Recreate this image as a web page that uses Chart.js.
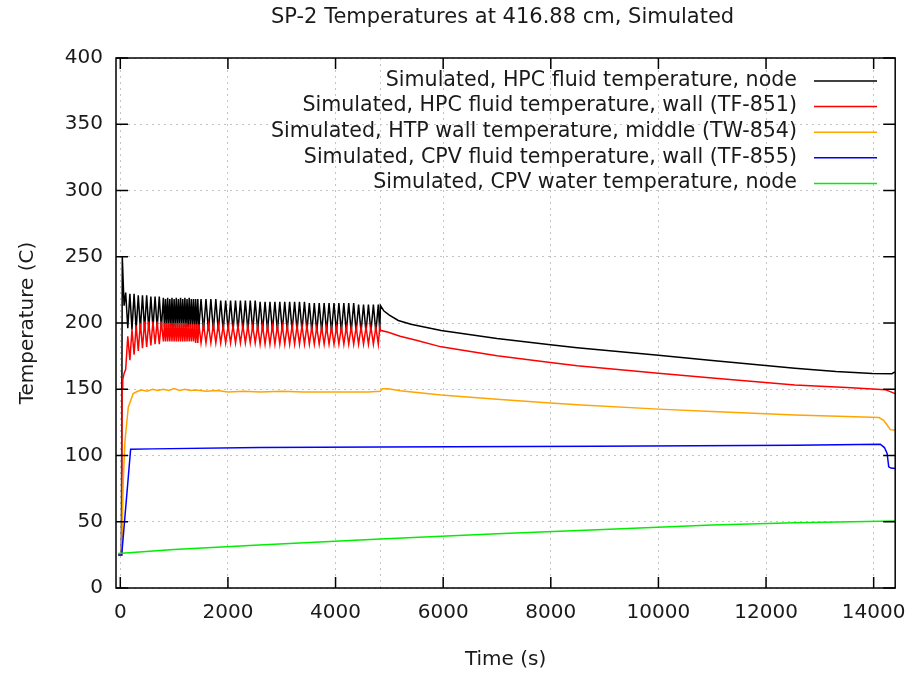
<!DOCTYPE html>
<html>
<head>
<meta charset="utf-8">
<script src="https://cdn.jsdelivr.net/npm/chart.js@4.4.1/dist/chart.umd.min.js"></script>
<style>
  body { margin: 0; background: #fff; }
  #wrap { width: 919px; height: 675px; position: relative; }
</style>
</head>
<body>
<div id="wrap"><canvas id="chartTemps"></canvas></div>
<script>
// Datos (tiempo en s, temperatura en C)
const chartTitle = 'SP-2 Temperatures at 416.88 cm, Simulated';
const xTitle = 'Time (s)';
const yTitle = 'Temperature (C)';
const xTicks = [0, 2000, 4000, 6000, 8000, 10000, 12000, 14000];
const yTicks = [0, 50, 100, 150, 200, 250, 300, 350, 400];
const xMin = -80, xMax = 14400;
const markerTime = 4834;

const seriesLabels = [
    'Simulated, HPC fluid temperature, node',
    'Simulated, HPC fluid temperature, wall (TF-851)',
    'Simulated, HTP wall temperature, middle (TW-854)',
    'Simulated, CPV fluid temperature, wall (TF-855)',
    'Simulated, CPV water temperature, node'
];

// Oscilación (0 - 4830 s): tiempos de picos/valles, compartidos por nodo y pared HPC
const oscTime = [
    100, 139, 178, 217, 256, 295, 334, 373, 412, 451, 490, 529, 568, 607, 646, 685, 724, 763,
    800, 820, 840, 860, 880, 900, 920, 940, 960, 980, 1000, 1020, 1040, 1060, 1080, 1100,
    1120, 1140, 1160, 1180, 1200, 1220, 1240, 1260, 1280, 1300, 1320, 1340, 1360, 1380, 1400, 1420, 1440, 1460,
    1500, 1546, 1592, 1638, 1683, 1729, 1775, 1821, 1866, 1912, 1958, 2004, 2049, 2095, 2141, 2187,
    2232, 2278, 2324, 2370, 2415, 2461, 2507, 2553, 2598, 2644, 2690, 2736, 2781, 2827, 2873, 2919,
    2964, 3010, 3056, 3102, 3147, 3193, 3239, 3285, 3330, 3376, 3422, 3468, 3513, 3559, 3605, 3651,
    3696, 3742, 3788, 3834, 3879, 3925, 3971, 4017, 4062, 4108, 4154, 4200, 4245, 4291, 4337, 4383,
    4428, 4474, 4520, 4566, 4611, 4657, 4703, 4749, 4794, 4822
];
const hpcNodeOsc = [
    223, 196, 222, 195, 222, 195, 221, 195, 221, 195, 221, 195, 220, 196, 220, 196, 220, 196,
    219, 197, 218, 197, 219, 197, 218, 197, 219, 197, 218, 197, 219, 197, 218, 197,
    219, 197, 218, 197, 219, 197, 218, 197, 219, 197, 218, 197, 218, 196, 218, 196, 218, 196,
    218, 194, 218, 194, 218, 194, 218, 194, 217, 194, 217, 194, 217, 194, 217, 194,
    217, 194, 217, 194, 217, 194, 217, 194, 216, 194, 216, 194, 216, 194, 216, 194,
    216, 194, 216, 194, 216, 194, 216, 194, 216, 194, 216, 194, 215, 193, 215, 193,
    215, 193, 215, 193, 215, 193, 215, 193, 215, 193, 215, 193, 215, 193, 215, 193,
    214, 193, 214, 193, 214, 193, 214, 193, 214, 193
];
const hpcWallOsc = [
    165, 190, 172, 195, 176, 198, 179, 200, 181, 201, 182, 201, 183, 201, 184, 201, 184, 201,
    186, 200, 186, 200, 186, 200, 186, 200, 186, 200, 186, 200, 186, 200, 186, 200,
    186, 200, 186, 200, 186, 200, 186, 199, 186, 199, 186, 199, 186, 199, 185, 199, 185, 199,
    185, 199, 185, 199, 185, 199, 185, 199, 185, 198, 185, 198, 185, 198, 185, 198,
    185, 198, 185, 198, 185, 198, 185, 198, 184, 198, 184, 198, 184, 198, 184, 198,
    184, 198, 184, 198, 184, 198, 184, 198, 184, 198, 184, 198, 184, 197, 184, 197,
    184, 197, 184, 197, 184, 197, 184, 197, 184, 197, 184, 197, 184, 197, 184, 197,
    184, 197, 184, 197, 184, 197, 184, 197, 184, 197
];

// Nodo HPC: arranque y enfriamiento
const hpcNodeStartTime = [-40, 20, 37, 70];
const hpcNodeStartTemp = [25, 25, 250, 213];
const hpcNodeTailTime = [4834, 4900, 5000, 5166, 5400, 5962, 7000, 7993, 8491, 10000, 11000, 12535, 13300, 13976, 14340, 14370, 14400];
const hpcNodeTailTemp = [213.2, 209, 206, 201.9, 199, 194.3, 188.3, 183.5, 181.4, 175.6, 171.7, 165.8, 163.4, 161.9, 161.7, 162.5, 163];

// Pared HPC (TF-851)
const hpcWallStartTime = [-40, 25, 32, 45, 70];
const hpcWallStartTemp = [25, 25, 150, 157, 162];
const hpcWallTailTime = [4834, 4980, 5200, 5500, 5962, 7000, 7993, 8491, 10000, 11000, 12535, 13500, 14215, 14400];
const hpcWallTailTemp = [194.5, 193, 190, 187, 182, 175.3, 170.2, 167.8, 162, 158.5, 153.2, 151.3, 149.7, 146.7];

// Pared HTP (TW-854)
const htpWallTime = [-40, 25, 55, 87, 148, 240, 320, 400, 500, 600, 700, 800, 900, 1000, 1100, 1200, 1300, 1400,
    1600, 1800, 2000, 2300, 2600, 3000, 3400, 3800, 4200, 4600, 4830, 4870, 4980, 5200, 5962, 7000, 7993, 8491,
    10000, 11000, 12535, 13500, 14099, 14185, 14250, 14309, 14400];
const htpWallTemp = [25, 25, 81, 111, 136.5, 146.7, 148.5, 149.5, 148.5, 150, 149, 150, 149, 150.5, 149, 150, 149, 149.5,
    148.5, 149, 148, 148.5, 148, 148.5, 148, 148, 148, 148, 148.5, 150.3, 150.4, 148.8, 145.6, 142.4, 139.6, 138.3,
    135, 133.2, 130.6, 129.4, 128.6, 126.6, 123, 119.5, 119];

// Fluido CPV (TF-855)
const cpvFluidTime = [-40, 26, 192, 600, 2580, 4830, 8860, 12535, 14124, 14200, 14250, 14280, 14320, 14400];
const cpvFluidTemp = [25, 25, 104.7, 105, 106, 106.5, 107, 107.7, 108.5, 106, 101.5, 91.4, 90.5, 90.2];

// Agua CPV
const cpvWaterTime = [-40, 1000, 2580, 4830, 7000, 8860, 11000, 12535, 14400];
const cpvWaterTemp = [26, 29, 32.5, 37, 41, 44, 47.5, 49.2, 50.5];

function toPoints(times, temps) {
    return times.map((t, i) => ({ x: t, y: temps[i] }));
}

const hpcNodePoints = [
    ...toPoints(hpcNodeStartTime, hpcNodeStartTemp),
    ...toPoints(oscTime, hpcNodeOsc),
    ...toPoints(hpcNodeTailTime, hpcNodeTailTemp)
];
const hpcWallPoints = [
    ...toPoints(hpcWallStartTime, hpcWallStartTemp),
    ...toPoints(oscTime, hpcWallOsc),
    ...toPoints(hpcWallTailTime, hpcWallTailTemp)
];

const FONT = "'DejaVu Sans', Verdana, sans-serif";
const TEXT_COLOR = '#1a1a1a';
const GRID_COLOR = '#c4c4c4';

// Plugin: marco, marcas de ejes hacia adentro, línea vertical, leyenda y títulos (estilo gnuplot)
const gnuplotDecor = {
    id: 'gnuplotDecor',
    beforeDatasetsDraw(chart) {
        const { ctx, chartArea: a, scales } = chart;
        const px = scales.x.getPixelForValue(markerTime);
        ctx.save();
        ctx.strokeStyle = GRID_COLOR;
        ctx.lineWidth = 1;
        ctx.setLineDash([2, 4]);
        ctx.beginPath();
        ctx.moveTo(Math.round(px) + 0.5, a.top);
        ctx.lineTo(Math.round(px) + 0.5, a.bottom);
        ctx.stroke();
        ctx.restore();
    },
    afterDatasetsDraw(chart) {
        const { ctx, chartArea: a, scales } = chart;
        ctx.save();
        ctx.strokeStyle = '#000';
        ctx.lineWidth = 1.5;
        ctx.setLineDash([]);
        ctx.strokeRect(a.left, a.top, a.right - a.left, a.bottom - a.top);

        // Marcas
        ctx.beginPath();
        xTicks.forEach(v => {
            const p = scales.x.getPixelForValue(v);
            ctx.moveTo(p, a.bottom); ctx.lineTo(p, a.bottom - 11);
            ctx.moveTo(p, a.top); ctx.lineTo(p, a.top + 11);
        });
        yTicks.forEach(v => {
            const p = scales.y.getPixelForValue(v);
            ctx.moveTo(a.left, p); ctx.lineTo(a.left + 12, p);
            ctx.moveTo(a.right, p); ctx.lineTo(a.right - 12, p);
        });
        ctx.stroke();

        // Leyenda
        ctx.font = '20.6px ' + FONT;
        ctx.textAlign = 'right';
        ctx.textBaseline = 'middle';
        chart.data.datasets.forEach((ds, i) => {
            const y = 80.5 + i * 25.6;
            ctx.fillStyle = TEXT_COLOR;
            ctx.fillText(ds.label, 797, y);
            ctx.strokeStyle = ds.borderColor;
            ctx.lineWidth = 1.5;
            ctx.beginPath();
            ctx.moveTo(814, y + 0.5);
            ctx.lineTo(877, y + 0.5);
            ctx.stroke();
        });

        // Títulos
        const cx = (a.left + a.right) / 2;
        ctx.fillStyle = TEXT_COLOR;
        ctx.textAlign = 'center';
        ctx.font = '21px ' + FONT;
        ctx.fillText(chartTitle, cx - 3, 18);
        ctx.font = '20px ' + FONT;
        ctx.fillText(xTitle, cx, 660);
        ctx.translate(28, (a.top + a.bottom) / 2);
        ctx.rotate(-Math.PI / 2);
        ctx.fillText(yTitle, 0, 0);
        ctx.restore();
    }
};

function lineDataset(label, points, color, order) {
    return {
        label: label,
        data: points,
        borderColor: color,
        backgroundColor: color,
        borderWidth: 1.5,
        pointRadius: 0,
        tension: 0,
        fill: false,
        order: order
    };
}

const ctx = document.getElementById('chartTemps').getContext('2d');
new Chart(ctx, {
    type: 'line',
    data: {
        datasets: [
            lineDataset(seriesLabels[0], hpcNodePoints, '#000000', 5),
            lineDataset(seriesLabels[1], hpcWallPoints, '#ff0000', 4),
            lineDataset(seriesLabels[2], toPoints(htpWallTime, htpWallTemp), '#ffa500', 3),
            lineDataset(seriesLabels[3], toPoints(cpvFluidTime, cpvFluidTemp), '#0000ff', 2),
            lineDataset(seriesLabels[4], toPoints(cpvWaterTime, cpvWaterTemp), '#00ee00', 1)
        ]
    },
    options: {
        responsive: true,
        maintainAspectRatio: false,
        animation: false,
        parsing: false,
        layout: { padding: { top: 58, right: 19, bottom: 0, left: 0 } },
        plugins: {
            legend: { display: false },
            title: { display: false },
            tooltip: { enabled: false }
        },
        scales: {
            x: {
                type: 'linear',
                min: xMin,
                max: xMax,
                afterBuildTicks: s => { s.ticks = xTicks.map(v => ({ value: v })); },
                afterFit: s => { s.height = 87; },
                grid: { color: GRID_COLOR, drawTicks: false, lineWidth: 1 },
                border: { display: false, dash: [2, 4] },
                ticks: {
                    padding: 13,
                    maxRotation: 0,
                    color: TEXT_COLOR,
                    font: { family: FONT, size: 20 },
                    callback: v => String(v)
                }
            },
            y: {
                type: 'linear',
                min: 0,
                max: 400,
                afterBuildTicks: s => { s.ticks = yTicks.map(v => ({ value: v })); },
                afterFit: s => { s.width = 116; },
                grid: { color: GRID_COLOR, drawTicks: false, lineWidth: 1 },
                border: { display: false, dash: [2, 4] },
                ticks: {
                    padding: 13,
                    color: TEXT_COLOR,
                    font: { family: FONT, size: 20 },
                    callback: v => String(v)
                }
            }
        }
    },
    plugins: [gnuplotDecor]
});
</script>
</body>
</html>
